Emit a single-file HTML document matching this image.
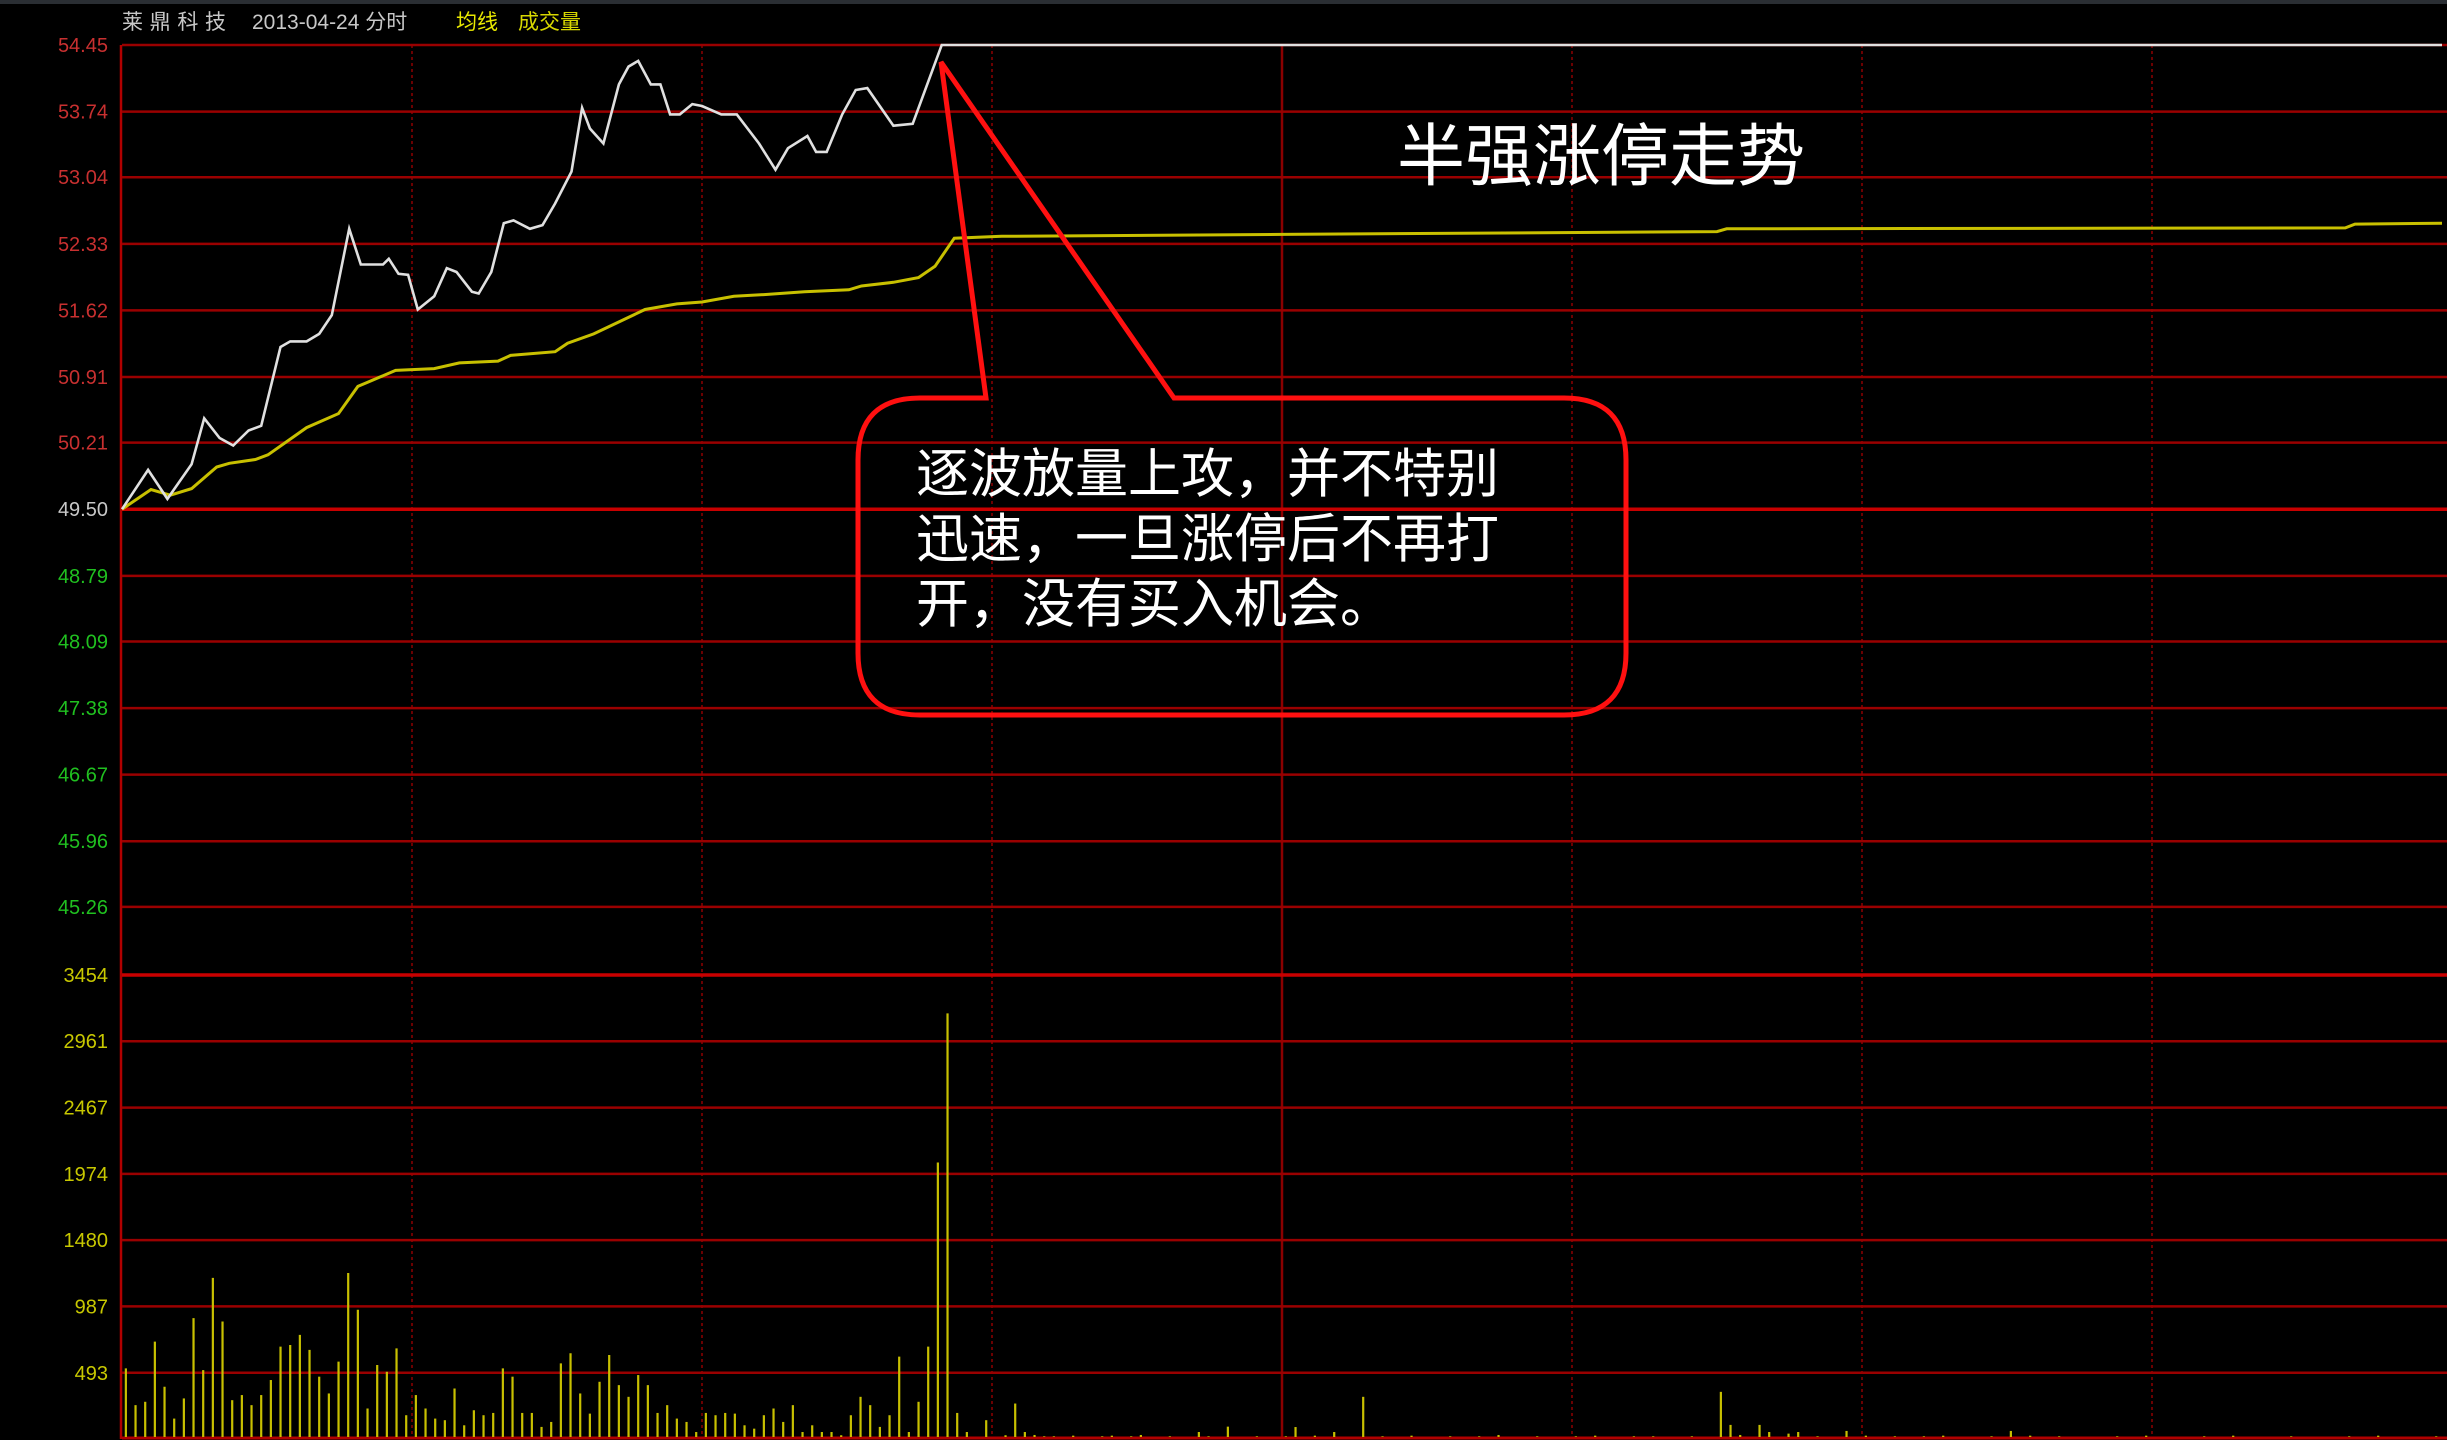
<!DOCTYPE html>
<html><head><meta charset="utf-8"><style>
html,body{margin:0;padding:0;background:#000;}
body{width:2447px;height:1440px;overflow:hidden;position:relative;font-family:"Liberation Sans","Noto Sans CJK SC",sans-serif;}
svg{position:absolute;left:0;top:0;}
</style></head><body>
<svg id="chart" width="2447" height="1440" viewBox="0 0 2447 1440" xmlns="http://www.w3.org/2000/svg">
<rect x="0" y="0" width="2447" height="1440" fill="#000"/>
<rect x="0" y="0" width="2447" height="4" fill="#2a2e33"/>
<g id="grid"></g>
<g id="axes"></g>
<g id="vol"></g>
<g id="lines"></g>
<g font-size="21">
<text x="122" y="29" fill="#c8c8c8" textLength="104">莱鼎科技</text>
<text x="252" y="29" fill="#c8c8c8">2013-04-24 分时</text>
<text x="456" y="29" fill="#e8e800">均线</text>
<text x="518" y="29" fill="#d8d800">成交量</text>
</g>
<text x="1397" y="180" fill="#fff" font-size="68">半强涨停走势</text>
<path d="M986,398 L941,62 L1174,398 L1564,398 Q1626,398 1626,460 L1626,653 Q1626,715 1564,715 L920,715 Q858,715 858,653 L858,460 Q858,398 920,398 Z" fill="none" stroke="#ff1010" stroke-width="5" stroke-linejoin="miter"/>
<g fill="#fff" font-size="53">
<text x="916" y="492">逐波放量上攻，并不特别</text>
<text x="916" y="557">迅速，一旦涨停后不再打</text>
<text x="916" y="622">开，没有买入机会。</text>
</g>
</svg>
<script>
const priceTicks=["54.45","53.74","53.04","52.33","51.62","50.91","50.21","49.50","48.79","48.09","47.38","46.67","45.96","45.26"];
const volTicks=["3454","2961","2467","1974","1480","987","493"];
const priceMin=[0,2.7,4.7,7.2,8.5,10.1,11.5,13.1,14.4,16.4,17.4,19.1,20.4,21.7,23.5,24.7,27,27.6,28.6,29.6,30.6,32.3,33.6,34.6,36.2,36.9,38.2,39.5,40.5,42.2,43.5,44.8,46.5,47.6,48.4,49.8,51.4,52.4,53.4,54.7,55.7,56.7,57.7,59,60,62,63.6,65.9,67.6,68.9,70.9,71.8,72.9,74.5,75.9,77.1,79.8,81.8,84.8,240];
const priceVal=[49.50,49.92,49.61,49.98,50.47,50.26,50.18,50.34,50.39,51.23,51.29,51.29,51.37,51.57,52.49,52.11,52.11,52.17,52.01,52.00,51.63,51.77,52.07,52.03,51.82,51.80,52.03,52.55,52.58,52.49,52.53,52.76,53.10,53.78,53.56,53.40,54.03,54.22,54.28,54.03,54.03,53.71,53.71,53.82,53.80,53.71,53.71,53.40,53.12,53.35,53.48,53.31,53.31,53.71,53.97,53.99,53.59,53.61,54.45,54.45];
const avgMin=[0,3,5,7.2,9.8,11.1,13.8,15.1,19.1,22.4,24.4,28.3,32.3,34.9,38.9,40.2,44.8,46.1,48.8,54.1,57.4,60,63.3,66.6,70.6,75.2,76.5,79.8,82.4,84.1,86.1,91,120,165,166,230,231,240];
const avgVal=[49.50,49.71,49.65,49.72,49.95,49.99,50.03,50.08,50.37,50.52,50.81,50.98,51.00,51.06,51.08,51.14,51.18,51.27,51.37,51.63,51.69,51.71,51.77,51.79,51.82,51.84,51.88,51.92,51.97,52.09,52.39,52.41,52.43,52.46,52.49,52.50,52.54,52.55];
const volume=[526,252,277,725,389,152,302,900,513,1199,875,289,327,252,327,439,688,700,775,663,464,339,576,1236,962,227,551,501,675,177,327,227,152,140,376,102,214,177,194,526,464,194,194,90,127,563,638,339,189,426,625,401,314,476,401,194,252,152,127,52,194,177,194,189,102,77,177,227,127,252,52,102,52,52,28,177,314,252,90,177,613,52,277,688,2058,3168,194,52,15,140,15,28,264,52,30,20];
const lateMin=[96,98,99,101,102,104,105,106,108,109,111,112,114,115,117,118,120,121,123,125,126,128,130,131,133,135,137,138,140,142,144,146,148,150,152,154,156,158,160,162,164,165,166,167,169,170,172,173,175,178,180,183,186,188,190,193,195,197,200,203,206,209,212,215,218,221,224,227,230,233,236,239];
const lateVol=[20,25,15,20,25,20,30,15,20,15,52,20,92,15,20,15,20,89,25,52,15,314,20,15,25,15,20,15,20,30,15,20,15,20,25,15,20,20,15,20,15,351,105,30,105,52,40,52,20,60,25,20,20,25,15,20,60,25,20,15,20,25,15,20,25,15,20,15,20,25,15,20];
const NS="http://www.w3.org/2000/svg";
const X0=122,X1=2442,P_TOP=45,GAP=66.3,V_TOP=975,V_BOT=1439;
const pHi=54.45,pLo=45.26,vMax=3454;
function xs(m){return X0+m*(X1-X0)/240;}
function yp(p){return P_TOP+(pHi-p)/(pHi-pLo)*(13*GAP);}
function yv(v){return V_BOT-v/vMax*(V_BOT-V_TOP);}
function mk(tag,attrs,parent){const e=document.createElementNS(NS,tag);for(const k in attrs)e.setAttribute(k,attrs[k]);parent.appendChild(e);return e;}
const grid=document.getElementById('grid'),axes=document.getElementById('axes'),vol=document.getElementById('vol'),lines=document.getElementById('lines');
for(let i=1;i<8;i++){const x=xs(i*30);const l=mk('line',{x1:x,y1:P_TOP,x2:x,y2:V_BOT,stroke:i===4?'#8a0000':'#6a0000','stroke-width':i===4?2.5:2,'stroke-dasharray':i===4?'none':'3,3'},grid);

}
const la=mk('line',{x1:X0-1,y1:P_TOP,x2:X0-1,y2:V_BOT,stroke:'#b00000','stroke-width':2.5},grid);


priceTicks.forEach((t,i)=>{const y=yp(parseFloat(t));const ref=t==="49.50";
const l=mk('line',{x1:X0,y1:y,x2:2447,y2:y,stroke:ref?'#c80000':'#9a0000','stroke-width':ref?3.5:2.5},grid);


const tx=mk('text',{x:108,y:y+7,'text-anchor':'end','font-size':20,fill:ref?'#c8c8c8':(parseFloat(t)>49.5?'#c83030':'#20c020')},axes);tx.textContent=t;

});
volTicks.forEach((t,i)=>{const y=yv(parseFloat(t));const top=i===0;
const l=mk('line',{x1:X0,y1:y,x2:2447,y2:y,stroke:top?'#c80000':'#9a0000','stroke-width':top?3.5:2.5},grid);


const tx=mk('text',{x:108,y:y+7,'text-anchor':'end','font-size':20,fill:'#c8c800'},axes);tx.textContent=t;

});
const ba=mk('line',{x1:X0,y1:V_BOT-1,x2:2447,y2:V_BOT-1,stroke:'#b00000','stroke-width':3},grid);


function bar(m,v){const x=xs(m+0.4);const b=mk('line',{x1:x,y1:V_BOT-2,x2:x,y2:yv(v),stroke:'#c8c000','stroke-width':2.2},vol);

}
volume.forEach((v,i)=>bar(i,v));
lateMin.forEach((m,i)=>bar(m,lateVol[i]));
function pts(ms,vs){return ms.map((m,i)=>xs(m).toFixed(1)+','+yp(vs[i]).toFixed(1)).join(' ');}
const avg=mk('polyline',{points:pts(avgMin,avgVal),fill:'none',stroke:'#c8c000','stroke-width':3},lines);


const pr=mk('polyline',{points:pts(priceMin,priceVal),fill:'none',stroke:'#e0e0e0','stroke-width':2.6},lines);


</script>
</body></html>
